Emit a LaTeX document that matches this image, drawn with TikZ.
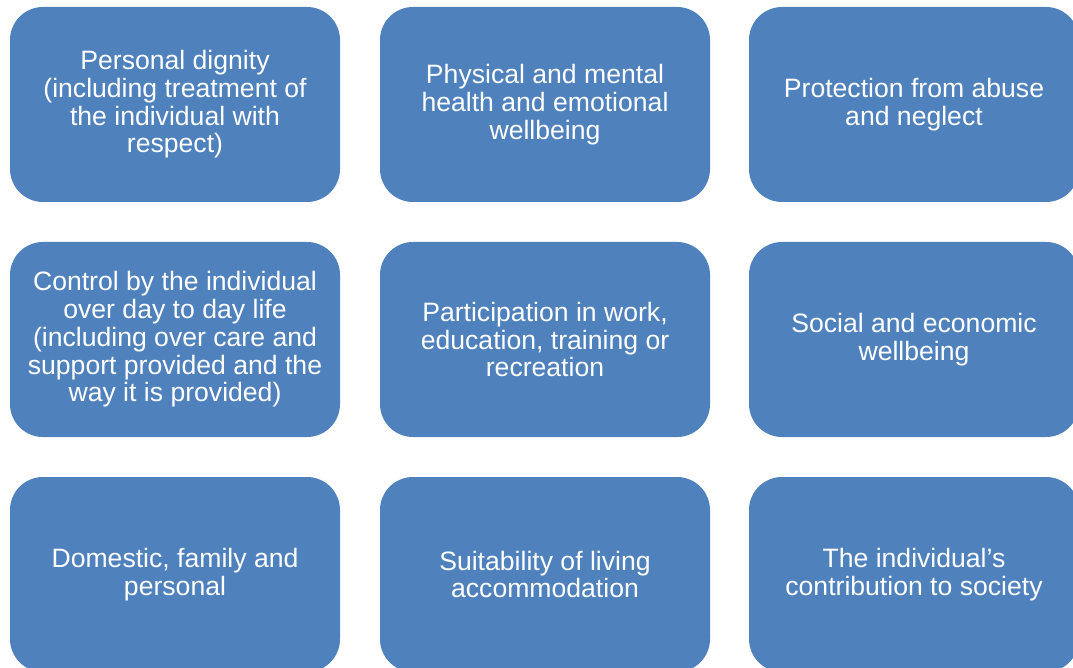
\documentclass[tikz,border=0pt]{standalone}
\usepackage{fontspec}
\setmainfont{Liberation Sans}
\definecolor{tileblue}{HTML}{4F81BD}
\begin{document}
\begin{tikzpicture}[x=1pt,y=-1pt,
  tile/.style={fill=tileblue, draw=none, rounded corners=33pt,
    minimum width=330pt, minimum height=195pt, inner sep=0pt,
    text=white, align=center,
    font=\fontsize{26.6}{27.7}\selectfont}]
\useasboundingbox (0,0) rectangle (1073,668);
\clip (0,0) rectangle (1073,668);
% row 1
\node[tile] (dignity) at (175,104.5) {Personal dignity\\(including treatment of\\the individual with\\respect)};
\node[tile] (health) at (545,104.5) {Physical and mental\\health and emotional\\wellbeing};
\node[tile] (protect) at (914,104.5) {Protection from abuse\\and neglect};
% row 2
\node[tile] (control) at (175,339.5) {Control by the individual\\over day to day life\\(including over care and\\support provided and the\\way it is provided)};
\node[tile] (work) at (545,339.5) {Participation in work,\\education, training or\\recreation};
\node[tile] (social) at (914,339.5) {Social and economic\\wellbeing};
% row 3
\node[tile] (domestic) at (175,574.5) {Domestic, family and\\personal};
\node[tile] (living) at (545,574.5) {Suitability of living\\accommodation};
\node[tile] (society) at (914,574.5) {The individual’s\\contribution to society};
\end{tikzpicture}
\end{document}
